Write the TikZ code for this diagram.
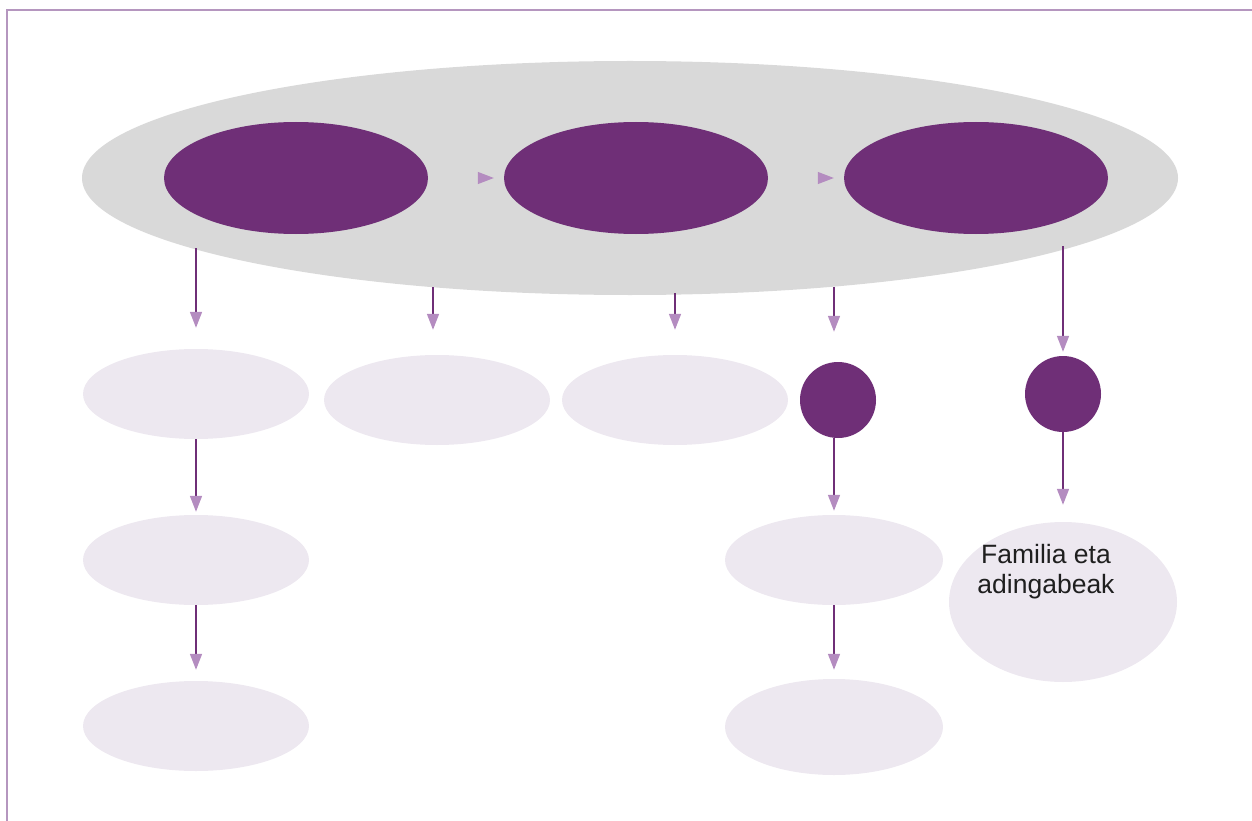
\documentclass[tikz,border=0pt]{standalone}
\usepackage{fontspec}
\setmainfont{Liberation Sans}
\usetikzlibrary{shapes.geometric,arrows.meta}
\definecolor{plum}{HTML}{6F2F77}
\definecolor{lilac}{HTML}{EDE8F0}
\definecolor{backgrey}{HTML}{D9D9D9}
\definecolor{tipc}{HTML}{B48CC0}
\definecolor{framec}{HTML}{B596BF}
\tikzset{
  blob/.style={ellipse, inner sep=0pt, draw=none},
  bigback/.style={blob, fill=backgrey, minimum width=1096pt, minimum height=234pt},
  stage/.style={blob, fill=plum, minimum width=264pt, minimum height=112pt},
  soft/.style={blob, fill=lilac, minimum width=226pt, minimum height=90pt},
  dot/.style={circle, inner sep=0pt, fill=plum, minimum size=76pt},
  vlink/.style={plum, line width=1.6pt, -{Triangle[length=16pt,width=12pt,color=tipc,fill=tipc]}},
  hlink/.style={backgrey, line width=1pt, -{Triangle[length=16pt,width=12pt,color=tipc,fill=tipc]}}
}
\begin{document}
\begin{tikzpicture}[x=1pt,y=-1pt]
  \useasboundingbox (0,0) rectangle (1252,821);
  \draw[framec, line width=1.5pt] (7,821) -- (7,10) -- (1252,10);
  \path
    (630,178) node[bigback] (grp){}
    (296,178) node[stage] (p1){}
    (636,178) node[stage] (p2){}
    (976,178) node[stage] (p3){}
    (196,394) node[soft] (r1){}
    (437,400) node[soft] (r2){}
    (675,400) node[soft] (r3){}
    (838,400) node[dot] (c4){}
    (1063,394) node[dot] (c5){}
    (196,560) node[soft] (s1){}
    (834,560) node[soft, minimum width=218pt] (u4){}
    (1063,602) node[blob, fill=lilac, minimum width=228pt, minimum height=160pt] (fam){}
    (196,726) node[soft] (t1){}
    (834,727) node[soft, minimum width=218pt, minimum height=96pt] (v4){};
  \node[align=center, font=\fontsize{26.5}{30}\selectfont, text=black!88] (famtext) at (1046,572)
    {Familia eta\\adingabeak};
  \coordinate (a1) at (196,248);
  \coordinate (a2) at (433,287);
  \coordinate (a3) at (675,293);
  \coordinate (a4) at (834,287);
  \coordinate (a5) at (1063,246);
  \begin{scope}[hlink]
    \draw[shorten >=10pt] (p1.east) to (p2.west);
    \draw[shorten >=10pt] (p2.east) to (p3.west);
  \end{scope}
  \begin{scope}[vlink]
    \draw[shorten >=21pt] (a1) to (r1.north);
    \draw[shorten >=25pt] (a2) to (a2 |- r2.north);
    \draw[shorten >=25pt] (a3) to (r3.north);
    \draw[shorten >=30pt] (a4) to (a4 |- c4.north);
    \draw[shorten >=4pt] (a5) to (c5.north);
    \draw[shorten >=3pt] (r1.south) to (s1.north);
    \draw[shorten >=11pt] (s1.south) to (t1.north);
    \draw[shorten >=4pt] (c4.south -| u4.north) to (u4.north);
    \draw[shorten >=9pt] (u4.south) to (v4.north);
    \draw[shorten >=17pt] (c5.south) to (fam.north);
  \end{scope}
\end{tikzpicture}
\end{document}
